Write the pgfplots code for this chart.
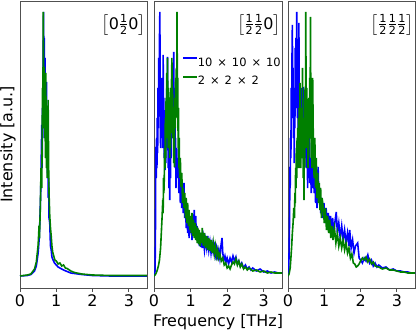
\documentclass[border=0pt]{standalone}
\usepackage{amsmath}
\usepackage{fontspec}
\setmainfont{DejaVu Sans}
\usepackage{pgfplots}
\pgfplotsset{compat=1.18}

\definecolor{mblue}{RGB}{0,0,255}
\definecolor{mgreen}{RGB}{0,128,0}
\definecolor{frame}{RGB}{80,80,80}

\pgfplotsset{
  panel/.style={
    scale only axis,
    width=127bp, height=287bp,
    xmin=0, xmax=3.5, ymin=0, ymax=287,
    xtick={0,1,2,3}, ytick=\empty,
    xtick pos=left, tick align=outside,
    major tick length=3.5bp,
    axis line style={frame, line width=0.8bp},
    every tick/.style={frame, line width=0.8bp},
    /pgf/number format/assume math mode=true,
    xticklabel style={font=\fontsize{16}{19}\selectfont},
    clip=true,
  },
  blueline/.style={mblue, line width=1.6bp, no marks},
  greenline/.style={mgreen, line width=1.6bp, no marks},
}
\newcommand{\hf}{\genfrac{}{}{}{}{\text{1}}{\text{2}}}
\newcommand{\lab}[1]{\fontsize{16}{19}\selectfont$\left[#1\right]$}
\newcommand{\by}{\hspace{5bp}×\hspace{5bp}}

\begin{document}
\begin{tikzpicture}
\useasboundingbox (0,0) rectangle (416bp,332bp);

% panel [0 1/2 0]
\begin{axis}[panel, at={(20bp,44bp)}, anchor=south west]
\addplot[blueline] table {
0 12
0.2 12.5
0.3 13.5
0.4 17
0.45 22
0.5 35
0.53 50
0.55 70
0.57 95
0.59 140
0.6 163
0.61 120
0.62 180
0.63 150
0.64 240
0.65 276
0.66 200
0.67 250
0.68 170
0.69 230
0.70 160
0.71 200
0.72 140
0.73 206
0.74 150
0.75 175
0.76 110
0.77 140
0.78 90
0.79 110
0.80 70
0.82 65
0.84 42
0.86 38
0.88 31
0.9 29
0.95 25
1.0 23
1.05 21
1.1 20
1.2 18
1.3 16.5
1.4 15
1.5 14.5
1.7 13.5
2.0 12.5
2.5 12
3.0 12
3.5 12
};
\addplot[greenline] table {
0 12
0.2 13
0.3 14
0.4 19
0.45 26
0.5 43
0.52 58
0.54 55
0.56 80
0.58 120
0.6 100
0.61 150
0.62 200
0.63 160
0.64 276
0.65 230
0.66 180
0.67 221
0.68 150
0.69 190
0.70 130
0.71 215
0.72 170
0.73 120
0.74 160
0.75 110
0.76 145
0.775 188
0.79 120
0.80 95
0.82 72
0.84 60
0.86 52
0.88 42
0.9 36
0.93 32
0.96 28
1.0 27
1.05 24
1.1 25
1.15 22
1.2 23
1.25 20
1.3 19.5
1.4 17
1.5 15.5
1.7 14
2.0 13
2.5 12.5
3.0 12.5
3.5 12.5
};
\node[anchor=north east, inner sep=0pt] at (rel axis cs:0.992,0.955) {\lab{\text{0}\hf\text{0}}};
\end{axis}

% panel [1/2 1/2 0]
\begin{axis}[panel, at={(154bp,44bp)}, anchor=south west, width=128bp,
  legend style={draw=none, fill=none, inner sep=0pt, at={(0.219,0.805)}, anchor=north west,
    font=\fontsize{11.5}{14}\selectfont, row sep=9.7bp,
    nodes={inner sep=0pt, text height=8.5bp, text depth=0bp}},
  legend image code/.code={\draw[#1] (0bp,4bp) -- (14bp,4bp);},
  legend cell align=left]
\addplot[blueline] table {
0 12
0.02 14
0.03 18
0.04 60
0.05 141
0.06 110
0.07 150
0.08 120
0.09 170
0.10 135
0.11 200
0.12 160
0.13 230
0.14 180
0.15 250
0.16 276
0.17 190
0.18 140
0.19 200
0.20 150
0.21 210
0.22 160
0.23 200
0.24 140
0.25 233
0.26 170
0.27 190
0.28 130
0.29 170
0.30 118
0.31 160
0.32 125
0.33 180
0.34 140
0.35 200
0.36 160
0.37 231
0.38 150
0.39 120
0.40 160
0.41 100
0.42 130
0.43 88
0.44 140
0.45 110
0.46 170
0.47 130
0.48 190
0.49 150
0.50 200
0.51 160
0.52 190
0.53 150
0.54 236
0.55 170
0.56 130
0.57 180
0.58 120
0.59 150
0.60 100
0.62 140
0.64 110
0.66 130
0.68 95
0.70 115
0.72 85
0.74 110
0.76 80
0.78 100
0.80 75
0.82 105
0.84 70
0.86 90
0.88 60
0.90 80
0.92 55
0.94 75
0.96 50
0.98 70
1.00 55
1.02 65
1.04 48
1.06 70
1.08 60
1.10 78
1.12 55
1.14 72
1.16 50
1.18 62
1.20 45
1.22 58
1.24 42
1.26 55
1.28 41
1.30 52
1.32 40
1.35 50
1.38 38
1.41 48
1.44 40
1.47 52
1.50 38
1.53 46
1.56 35
1.59 44
1.62 36
1.65 42
1.68 33
1.71 40
1.74 32
1.77 38
1.80 30
1.83 42
1.86 50
1.88 35
1.91 28
1.94 32
1.97 26
2.00 30
2.04 24
2.08 30
2.12 26
2.16 32
2.20 27
2.24 31
2.28 24
2.32 27
2.36 22
2.40 25
2.45 20
2.50 23
2.55 19
2.60 21
2.65 18
2.70 20
2.80 17
2.90 19
3.00 16
3.10 17
3.20 15
3.30 16
3.40 15
3.50 15
};
\addlegendentry{10\by 10\by 10}
\addplot[greenline] table {
0 12
0.03 13
0.06 15
0.09 18
0.12 22
0.15 28
0.18 40
0.20 55
0.22 70
0.24 88
0.25 75
0.26 110
0.27 95
0.28 108
0.29 140
0.30 120
0.31 170
0.32 130
0.33 190
0.34 150
0.35 215
0.36 170
0.37 230
0.38 180
0.39 140
0.40 200
0.41 150
0.42 190
0.43 130
0.44 175
0.45 140
0.46 200
0.47 155
0.48 210
0.49 230
0.50 170
0.51 200
0.52 150
0.53 180
0.54 125
0.55 160
0.56 121
0.57 190
0.58 160
0.59 210
0.60 170
0.61 220
0.62 190
0.63 276
0.64 180
0.65 210
0.66 140
0.67 180
0.68 120
0.69 150
0.70 110
0.72 130
0.74 101
0.76 115
0.78 85
0.80 100
0.82 80
0.84 95
0.86 70
0.88 90
0.90 65
0.92 85
0.94 62
0.96 78
0.98 58
1.00 72
1.02 55
1.04 75
1.06 52
1.08 68
1.10 50
1.12 65
1.14 48
1.16 62
1.18 45
1.20 60
1.22 44
1.24 58
1.26 42
1.28 55
1.30 45
1.32 60
1.35 42
1.38 55
1.41 40
1.44 52
1.47 38
1.50 50
1.53 37
1.56 48
1.59 35
1.62 45
1.65 34
1.68 42
1.71 32
1.74 38
1.77 30
1.80 34
1.84 27
1.88 30
1.92 23
1.96 25
2.00 20
2.04 22
2.08 19
2.12 23
2.16 26
2.20 24
2.24 29
2.28 23
2.32 27
2.36 21
2.40 24
2.45 19
2.50 21
2.55 18
2.60 20
2.70 17
2.80 18
2.90 16
3.00 17
3.10 15
3.20 16
3.30 15
3.40 15
3.50 15
};
\addlegendentry{2\by 2\by 2}
\node[anchor=north east, inner sep=0pt] at (rel axis cs:0.992,0.955) {\lab{\hf\hf\text{0}}};
\end{axis}

% panel [1/2 1/2 1/2]
\begin{axis}[panel, at={(288bp,44bp)}, anchor=south west]
\addplot[blueline] table {
0 12
0.02 15
0.04 60
0.055 121
0.06 100
0.07 150
0.08 130
0.09 200
0.10 170
0.11 230
0.12 263
0.13 180
0.14 220
0.15 150
0.16 200
0.17 125
0.18 190
0.19 160
0.20 240
0.21 180
0.22 250
0.23 200
0.24 276
0.25 210
0.26 170
0.27 230
0.28 150
0.29 200
0.30 265
0.31 180
0.32 130
0.33 190
0.34 125
0.35 170
0.36 140
0.37 200
0.38 150
0.39 180
0.40 130
0.41 170
0.42 201
0.43 140
0.44 110
0.45 160
0.46 120
0.47 180
0.48 140
0.49 190
0.50 150
0.51 170
0.52 120
0.53 160
0.54 100
0.55 140
0.56 110
0.57 170
0.58 130
0.59 150
0.60 105
0.62 130
0.64 95
0.66 120
0.68 100
0.70 135
0.72 95
0.74 110
0.76 85
0.78 105
0.80 80
0.83 121
0.85 90
0.88 100
0.90 75
0.93 90
0.96 70
0.99 85
1.02 65
1.05 80
1.08 62
1.11 75
1.14 60
1.17 72
1.20 58
1.23 70
1.26 55
1.30 68
1.33 76
1.36 55
1.40 65
1.44 50
1.48 62
1.52 48
1.56 58
1.60 45
1.64 55
1.68 42
1.70 58
1.74 40
1.78 48
1.82 35
1.86 42
1.92 45
1.96 30
2.00 28
2.05 25
2.10 30
2.15 27
2.20 33
2.25 25
2.30 28
2.35 22
2.40 25
2.45 21
2.50 23
2.60 20
2.70 21
2.80 18
2.90 19
3.00 17
3.10 17
3.20 16
3.30 16
3.40 15
3.50 15
};
\addplot[greenline] table {
0 12
0.03 14
0.06 20
0.08 30
0.10 41
0.12 55
0.14 65
0.16 80
0.18 70
0.19 95
0.20 85
0.21 120
0.22 100
0.23 140
0.24 110
0.25 150
0.26 120
0.27 160
0.28 138
0.29 170
0.30 120
0.31 180
0.32 140
0.33 205
0.34 150
0.35 120
0.36 170
0.37 130
0.38 180
0.39 140
0.40 220
0.41 160
0.42 110
0.43 170
0.44 88
0.45 150
0.46 120
0.47 200
0.48 160
0.49 276
0.50 180
0.51 140
0.52 200
0.53 150
0.54 180
0.55 120
0.56 160
0.57 130
0.58 190
0.59 150
0.60 210
0.61 180
0.62 271
0.63 170
0.64 130
0.65 170
0.66 120
0.68 210
0.70 140
0.72 110
0.74 150
0.76 100
0.78 130
0.80 90
0.82 115
0.84 85
0.86 105
0.88 78
0.90 100
0.92 70
0.94 90
0.97 81
1.00 65
1.03 80
1.06 58
1.09 72
1.12 55
1.15 68
1.18 50
1.21 62
1.24 48
1.28 60
1.32 45
1.36 55
1.40 42
1.44 50
1.48 40
1.52 48
1.56 38
1.60 45
1.64 35
1.68 40
1.72 30
1.76 34
1.80 25
1.84 24
1.88 21
1.92 22
1.96 24
2.00 27
2.05 30
2.10 28
2.15 31
2.20 26
2.25 29
2.30 24
2.35 26
2.40 22
2.50 21
2.60 19
2.70 20
2.80 18
2.90 18
3.00 17
3.10 16
3.20 16
3.30 15
3.40 15
3.50 15
};
\node[anchor=north east, inner sep=0pt] at (rel axis cs:0.992,0.955) {\lab{\hf\hf\hf}};
\end{axis}

\node[rotate=90, anchor=center, font=\fontsize{16}{19}\selectfont] at (8bp,187.5bp) {Intensity [a.u.]};
\node[anchor=base, font=\fontsize{16}{19}\selectfont] at (218bp,6bp) {Frequency [THz]};
\end{tikzpicture}
\end{document}
